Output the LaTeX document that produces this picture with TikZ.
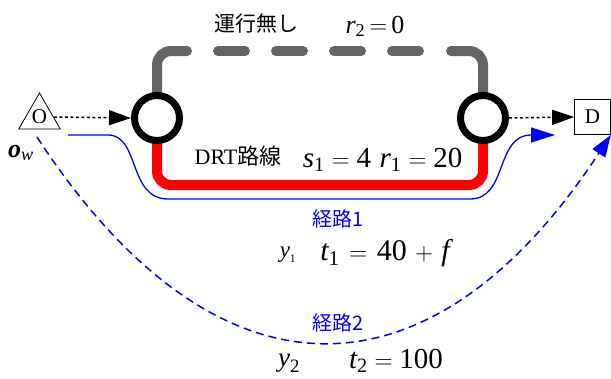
\documentclass[tikz,border=0pt]{standalone}
\usepackage{amsmath}
\usepackage{fontspec}
\setmainfont{Liberation Serif}
\newfontfamily\jp{Noto Sans CJK JP}
\usetikzlibrary{arrows.meta,shapes.geometric,backgrounds}
\newcommand\mv[1]{\textit{#1}}
\newcommand\mn[1]{\textrm{#1}}
\newcommand\fs[1]{\fontsize{#1}{#1}\selectfont}
\newcommand\wrel[1]{\mathrel{\mkern2mu#1\mkern2mu}}
\newcommand\wbin[1]{\mathbin{\mkern2mu#1\mkern2mu}}
\newcommand\nrel[1]{\mkern-2mu\mathrel{#1}\mkern-2mu}
\begin{document}
\begin{tikzpicture}[x=1pt,y=-1pt,
  stopnode/.style={circle,draw,line width=7pt,fill=white,minimum size=45pt,inner sep=0pt},
  endbox/.style={draw,line width=0.8pt,minimum width=36pt,minimum height=35pt,inner sep=0pt,font=\fs{21}},
  origin/.style={draw,line width=0.8pt,regular polygon,regular polygon sides=3,minimum size=48pt,inner sep=0pt,font=\fs{21}},
  dotarrow/.style={line width=1.5pt,dash pattern=on 3pt off 2.5pt,-{Triangle[length=22pt,width=15pt]}},
  grayroute/.style={line width=10pt,draw={rgb,255:red,100;green,100;blue,100},line cap=round},
  redroute/.style={line width=10pt,draw=red,line cap=round},
  bluesolid/.style={line width=1.3pt,blue,-{Triangle[length=24pt,width=15pt]}},
  bluedash/.style={line width=1.5pt,blue,dash pattern=on 8pt off 5pt,-{Triangle[length=22pt,width=15pt]}},
  lbl/.style={anchor=base,inner sep=0pt}]
\useasboundingbox (0,0) rectangle (611,378);

% nodes
\node[origin] (O) at (39.5,117) {O};
\node[stopnode] (c1) at (157,118) {};
\node[stopnode] (c2) at (483,118) {};
\node[endbox] (D) at (592.5,117) {D};

% route lines behind the stops
\begin{pgfonlayer}{background}
\draw[grayroute,rounded corners=14pt] (c1.center) |- (187,51);
\draw[grayroute,rounded corners=14pt] (451,51) -| (c2.center);
\draw[grayroute,dash pattern=on 27pt off 31pt] (218,51) -- (420,51);
\draw[redroute,rounded corners=14pt] (c1.center) |- (300,185) -| (c2.center);
\end{pgfonlayer}

% connectors
\draw[dotarrow] (O.east) -- (c1.west);
\draw[dotarrow] (c2.east) -- (D.west);
\coordinate (b0) at (68,135);
\coordinate (b1) at (555,135);
\draw[bluesolid] (b0) -- (108,135) .. controls (140,135) and (128,199) .. (168,199)
  -- (470,199) .. controls (508,199) and (495,135) .. (b1);
\coordinate (d0) at (37,137);
\draw[bluedash] (d0) .. controls (215,410) and (430,410) .. (D.south east);

% labels
\node[lbl,font=\jp\fs{21}] (t1) at (256,31) {運行無し};
\node[lbl,font=\fs{26}] (t2) at (375,33) {$\mv{r}_{\mn{2}} \nrel{=} \mn{0}$};
\node[lbl,font=\fs{22}] (t3) at (238,164) {DRT{\jp 路線}};
\node[lbl,font=\fs{29}] (t4) at (337,167) {$\mv{s}_{\mn{1}} = \mn{4}$};
\node[lbl,font=\fs{29}] (t5) at (421,167) {$\mv{r}_{\mn{1}} = \mn{20}$};
\node[lbl,font=\jp\fs{20},text=blue] (t6) at (338,226) {経路1};
\node[lbl,font=\fs{23}] (t7) at (288,257) {$\mv{y}_{\scriptscriptstyle\mn{1}}$};
\node[lbl,font=\fs{30}] (t8) at (385,260) {$\mv{t}_{\mn{1}} \wrel{=} \mn{40} \wbin{+} \mv{f}$};
\node[lbl,font=\fs{26}] (t9) at (21,157) {$\textbf{\textit{o}}_{\mv{w}}$};
\node[lbl,font=\jp\fs{20},text=blue] (t10) at (338,330) {経路2};
\node[lbl,font=\fs{27}] (t11) at (289,366) {$\mv{y}_{\mn{2}}$};
\node[lbl,font=\fs{29}] (t12) at (396,368) {$\mv{t}_{\mn{2}} = \mn{100}$};
\end{tikzpicture}
\end{document}
